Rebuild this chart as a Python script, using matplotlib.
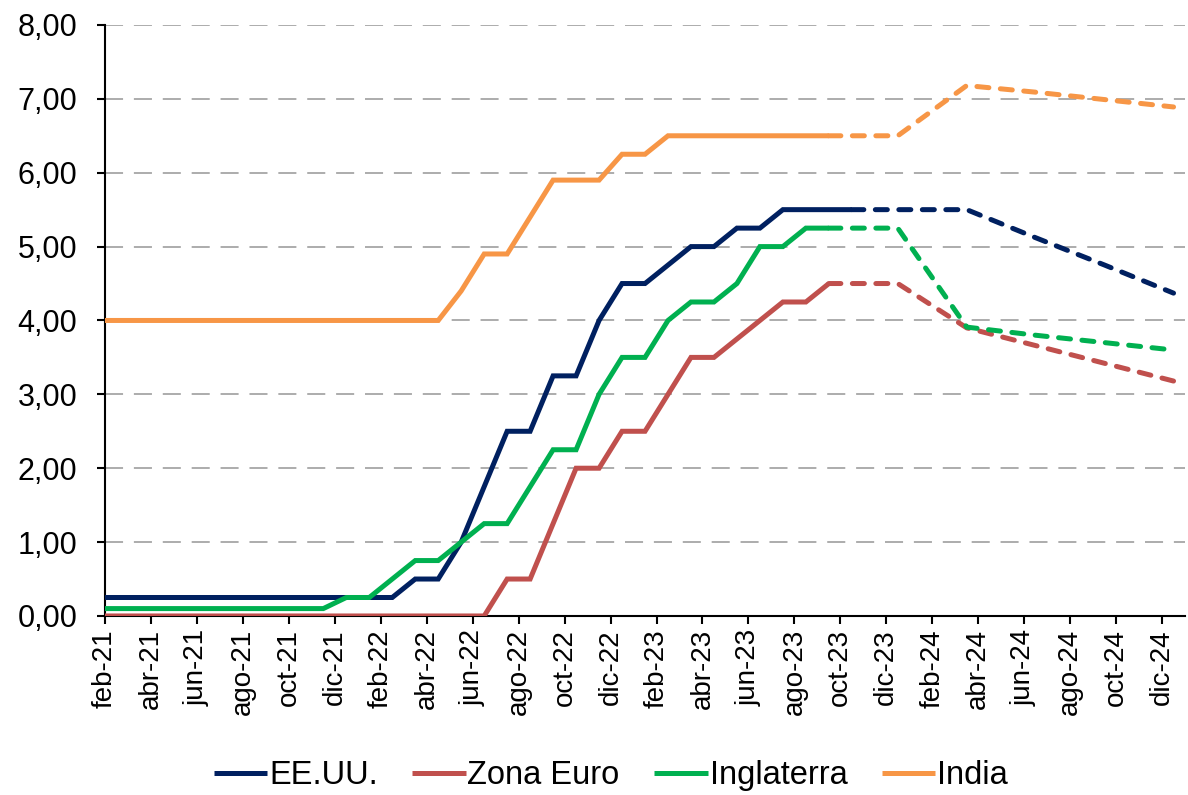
import matplotlib.pyplot as plt
from matplotlib.ticker import FuncFormatter

plt.rcParams['font.family'] = ['Liberation Sans', 'DejaVu Sans']

MESES = ["ene", "feb", "mar", "abr", "may", "jun", "jul", "ago", "sep", "oct", "nov", "dic"]

# monthly history starts at ene-21
eeuu_hist = [0.25] * 14 + [0.5, 0.5, 1.0, 1.75, 2.5, 2.5, 3.25, 3.25, 4.0, 4.5,
                           4.5, 4.75, 5.0, 5.0, 5.25, 5.25, 5.5, 5.5, 5.5, 5.5]
euro_hist = [0.0] * 18 + [0.5, 0.5, 1.25, 2.0, 2.0, 2.5, 2.5, 3.0, 3.5, 3.5,
                          3.75, 4.0, 4.25, 4.25, 4.5]
uk_hist = [0.1] * 11 + [0.25, 0.25, 0.5, 0.75, 0.75, 1.0, 1.25, 1.25, 1.75, 2.25, 2.25,
                        3.0, 3.5, 3.5, 4.0, 4.25, 4.25, 4.5, 5.0, 5.0, 5.25, 5.25]
india_hist = [4.0] * 16 + [4.4, 4.9, 4.9, 5.4, 5.9, 5.9, 5.9, 6.25, 6.25, 6.5,
                           6.5, 6.5, 6.5, 6.5, 6.5, 6.5, 6.5]

# forecasts (dashed)
eeuu_fc_months = ["oct-23", "dic-23", "mar-24", "jun-24", "sep-24", "dic-24"]
eeuu_fc = [5.5, 5.5, 5.5, 5.12, 4.75, 4.37]
fc_months = ["sep-23", "dic-23", "mar-24", "jun-24", "sep-24", "dic-24"]
euro_fc = [4.5, 4.5, 3.9, 3.66, 3.42, 3.18]
uk_fc = [5.25, 5.25, 3.91, 3.8, 3.7, 3.6]
india_fc = [6.5, 6.5, 7.18, 7.09, 6.99, 6.89]

tick_labels = ["feb-21", "abr-21", "jun-21", "ago-21", "oct-21", "dic-21",
               "feb-22", "abr-22", "jun-22", "ago-22", "oct-22", "dic-22",
               "feb-23", "abr-23", "jun-23", "ago-23", "oct-23", "dic-23",
               "feb-24", "abr-24", "jun-24", "ago-24", "oct-24", "dic-24"]


def month_pos(label):
    # tick for a month sits at its start, value plotted mid-month; feb-21 = 0
    mes, anio = label.split("-")
    return (int(anio) - 21) * 12 + MESES.index(mes) - 1


def hist_x(values):
    return [i - 1 + 0.5 for i in range(len(values))]


series = [
    ("EE.UU.", "#002060", eeuu_hist, eeuu_fc_months, eeuu_fc),
    ("Zona Euro", "#C0504D", euro_hist, fc_months, euro_fc),
    ("Inglaterra", "#00B050", uk_hist, fc_months, uk_fc),
    ("India", "#F79646", india_hist, fc_months, india_fc),
]

fig = plt.figure(figsize=(11.88, 7.95), dpi=100)
ax = fig.add_axes([0.0884, 0.2252, 0.9091, 0.7434])

for name, color, hist, fmonths, fvals in series:
    ax.plot(hist_x(hist), hist, color=color, lw=3.6, label=name,
            solid_capstyle='butt', solid_joinstyle='miter', zorder=3)
    ax.plot([month_pos(m) + 0.5 for m in fmonths], fvals, color=color, lw=3.6,
            dashes=(2.4, 2.3), dash_capstyle='round', zorder=3)

ax.set_xlim(0, 47)
ax.set_ylim(0, 8)
ax.set_yticks(range(0, 9))
ax.yaxis.set_major_formatter(FuncFormatter(lambda v, p: f"{v:.2f}".replace(".", ",")))
ax.set_xticks([month_pos(t) for t in tick_labels])
ax.set_xticklabels(tick_labels, rotation=90)

ax.grid(axis='y', color='#A6A6A6', lw=1.3, dashes=(10, 6))
ax.set_axisbelow(True)
for s in ["top", "right"]:
    ax.spines[s].set_visible(False)
ax.spines["left"].set_linewidth(1.5)
ax.spines["bottom"].set_linewidth(1.5)
ax.tick_params(axis='both', length=6, width=1.5, direction='out', colors='black')
ax.tick_params(axis='x', labelsize=20)
ax.tick_params(axis='y', labelsize=22, pad=14)

fig.legend(*ax.get_legend_handles_labels(), loc='center', bbox_to_anchor=(0.514, 0.024),
           ncol=4, frameon=False, fontsize=23.5, handlelength=1.65, handletextpad=0.05,
           columnspacing=1.05)

fig.savefig("out.png", dpi=100)
